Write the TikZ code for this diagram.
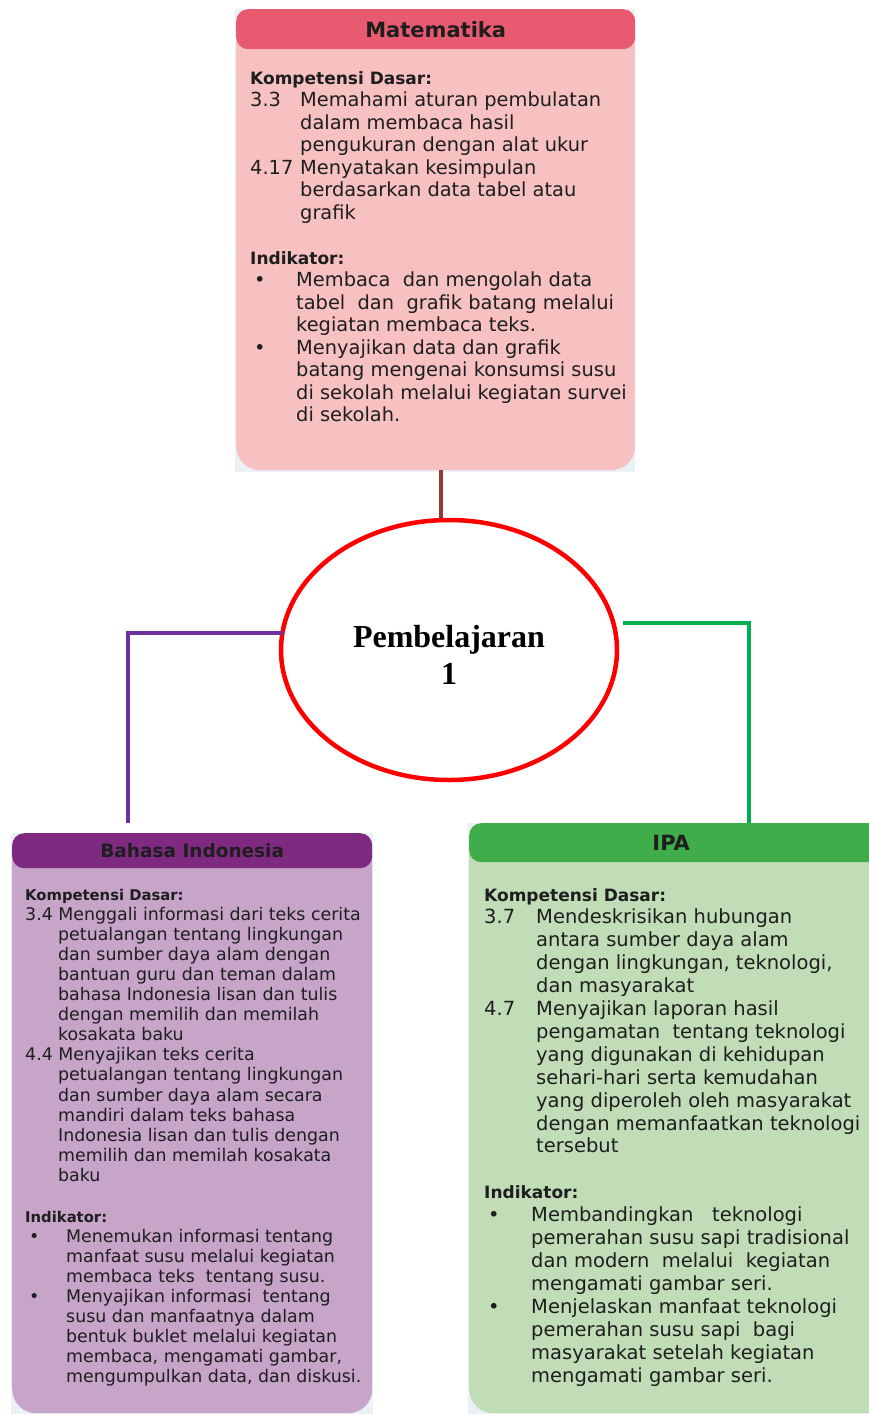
\documentclass[tikz,border=0pt]{standalone}
\usepackage{fontspec}
\usepackage{array}
\usetikzlibrary{shapes.geometric}
\setmainfont{DejaVu Sans}
\newfontfamily\serifbold{Liberation Serif}
\definecolor{paleback}{HTML}{EAF2F5}
\definecolor{matHead}{HTML}{E85A70}
\definecolor{matBody}{HTML}{F7C1C2}
\definecolor{bahHead}{HTML}{7F2A80}
\definecolor{bahBody}{HTML}{C6A5C8}
\definecolor{ipaHead}{HTML}{3FAE4A}
\definecolor{ipaBody}{HTML}{C1DDB7}
\definecolor{ink}{HTML}{1E1E1E}
\definecolor{brownline}{HTML}{953735}
\definecolor{purpleline}{HTML}{7030A0}
\definecolor{greenline}{HTML}{00B050}
% headings inside the cards
\newcommand{\bighead}[1]{\multicolumn{2}{@{}l@{}}{\fontsize{17}{10}\selectfont\bfseries #1}}
\newcommand{\smallhead}[1]{\multicolumn{2}{@{}l@{}}{\fontsize{14.8}{10}\selectfont\bfseries #1}}
\begin{document}
\begin{tikzpicture}[x=1pt,y=-1pt,
  cardbody/.style={rectangle,rounded corners=24pt,inner sep=0pt,anchor=north west},
  cardhead/.style={rectangle,rounded corners=12pt,inner sep=0pt,anchor=north west,
     text=ink,font=\bfseries\fontsize{21}{24}\selectfont},
  txt/.style={inner sep=0pt,anchor=base west,text=ink,align=left},
  link/.style={line width=4.5pt},
  linkshadow/.style={line width=4.5pt,draw=black,opacity=0.12,xshift=1.5pt,yshift=-2pt},
  hub/.style={ellipse,draw=red,line width=4.5pt,minimum width=336pt,minimum height=260pt,
     inner sep=0pt},
  hubtext/.style={inner sep=0pt,align=center,text=black,
     font=\serifbold\bfseries\fontsize{32}{37}\selectfont}]
\useasboundingbox (0,0) rectangle (869,1414);
\fill[white] (0,0) rectangle (869,1414);

% ---------- Matematika card ----------
\fill[paleback] (235,9) rectangle (635,472);
\node[cardbody,fill=matBody,minimum width=399pt,minimum height=461pt] (mat) at (236,9) {};
\node[cardhead,fill=matHead,minimum width=399pt,minimum height=40pt] (matHead) at (236,9) {Matematika};
\node[txt,font=\fontsize{19.4}{22.5}\selectfont] (matKD) at (250,84) {%
\begin{tabular}[t]{@{}p{50pt}@{}l@{}}
\bighead{Kompetensi Dasar:}\\
3.3 & Memahami aturan pembulatan\\
    & dalam membaca hasil\\
    & pengukuran dengan alat ukur\\
4.17 & Menyatakan kesimpulan\\
    & berdasarkan data tabel atau\\
    & grafik
\end{tabular}};
\node[txt,font=\fontsize{19.4}{22.5}\selectfont] (matInd) at (250,264) {%
\begin{tabular}[t]{@{}p{46pt}@{}l@{}}
\bighead{Indikator:}\\
\hspace{4pt}\textbullet & Membaca\ \ dan mengolah data\\
    & tabel\ \ dan\ \ grafik batang melalui\\
    & kegiatan membaca teks.\\
\hspace{4pt}\textbullet & Menyajikan data dan grafik\\
    & batang mengenai konsumsi susu\\
    & di sekolah melalui kegiatan survei\\
    & di sekolah.
\end{tabular}};

% ---------- Bahasa Indonesia card ----------
\fill[paleback] (11,833) rectangle (373,1414);
\node[cardbody,fill=bahBody,minimum width=360pt,minimum height=580pt] (bah) at (12,833) {};
\node[cardhead,fill=bahHead,minimum width=360pt,minimum height=35pt,
      font=\bfseries\fontsize{18.5}{22}\selectfont] (bahHead) at (12,833) {Bahasa\ Indonesia};
\node[txt,font=\fontsize{17.4}{20.1}\selectfont] (bahKD) at (25,900) {%
\begin{tabular}[t]{@{}p{33pt}@{}l@{}}
\smallhead{Kompetensi Dasar:}\\
\multicolumn{2}{@{}l@{}}{3.4 Menggali informasi dari teks cerita}\\
    & petualangan tentang lingkungan\\
    & dan sumber daya alam dengan\\
    & bantuan guru dan teman dalam\\
    & bahasa Indonesia lisan dan tulis\\
    & dengan memilih dan memilah\\
    & kosakata baku\\
\multicolumn{2}{@{}l@{}}{4.4 Menyajikan teks cerita}\\
    & petualangan tentang lingkungan\\
    & dan sumber daya alam secara\\
    & mandiri dalam teks bahasa\\
    & Indonesia lisan dan tulis dengan\\
    & memilih dan memilah kosakata\\
    & baku
\end{tabular}};
\node[txt,font=\fontsize{17.4}{20.1}\selectfont] (bahInd) at (25,1222) {%
\begin{tabular}[t]{@{}p{41pt}@{}l@{}}
\smallhead{Indikator:}\\
\hspace{4pt}\textbullet & Menemukan informasi tentang\\
    & manfaat susu melalui kegiatan\\
    & membaca teks\ \ tentang susu.\\
\hspace{4pt}\textbullet & Menyajikan informasi\ \ tentang\\
    & susu dan manfaatnya dalam\\
    & bentuk buklet melalui kegiatan\\
    & membaca, mengamati gambar,\\
    & mengumpulkan data, dan diskusi.
\end{tabular}};

% ---------- IPA card ----------
\fill[paleback] (468,823) rectangle (869,1414);
\node[cardbody,fill=ipaBody,minimum width=420pt,minimum height=590pt] (ipa) at (469,823) {};
\node[cardhead,fill=ipaHead,minimum width=420pt,minimum height=39pt,text width=400pt,align=center] (ipaHead) at (469,823) {\hspace{-16pt}IPA};
\node[txt,font=\fontsize{19.5}{22.9}\selectfont] (ipaKD) at (484,901) {%
\begin{tabular}[t]{@{}p{52pt}@{}l@{}}
\bighead{Kompetensi Dasar:}\\
3.7 & Mendeskrisikan hubungan\\
    & antara sumber daya alam\\
    & dengan lingkungan, teknologi,\\
    & dan masyarakat\\
4.7 & Menyajikan laporan hasil\\
    & pengamatan\ \ tentang teknologi\\
    & yang digunakan di kehidupan\\
    & sehari-hari serta kemudahan\\
    & yang diperoleh oleh masyarakat\\
    & dengan memanfaatkan teknologi\\
    & tersebut
\end{tabular}};
\node[txt,font=\fontsize{19.5}{23}\selectfont] (ipaInd) at (484,1198) {%
\begin{tabular}[t]{@{}p{47pt}@{}l@{}}
\bighead{Indikator:}\\
\hspace{4pt}\textbullet & Membandingkan\ \ \ teknologi\\
    & pemerahan susu sapi tradisional\\
    & dan modern\ \ melalui\ \ kegiatan\\
    & mengamati gambar seri.\\
\hspace{4pt}\textbullet & Menjelaskan manfaat teknologi\\
    & pemerahan susu sapi\ \ bagi\\
    & masyarakat setelah kegiatan\\
    & mengamati gambar seri.
\end{tabular}};

% ---------- central hub ----------
\node[hub] (hub) at (449,650) {};
\node[hubtext] (hubLabel) at (449,655) {Pembelajaran\\1};

% ---------- connectors ----------
\coordinate (matFoot) at (441,470);
\coordinate (bahTop) at (128,823);
\coordinate (ipaTop) at (749,823);
\coordinate (hubL) at (283,633);
\coordinate (hubR) at (623,623);
\draw[linkshadow] (matFoot) -- (matFoot |- hub.north);
\draw[linkshadow] (hubL) -| (bahTop);
\draw[linkshadow] (hubR) -| (ipaTop);
\draw[link,draw=brownline] (matFoot) -- (matFoot |- hub.north);
\draw[link,draw=purpleline] (hubL) -| (bahTop);
\draw[link,draw=greenline] (hubR) -| (ipaTop);
\end{tikzpicture}
\end{document}
